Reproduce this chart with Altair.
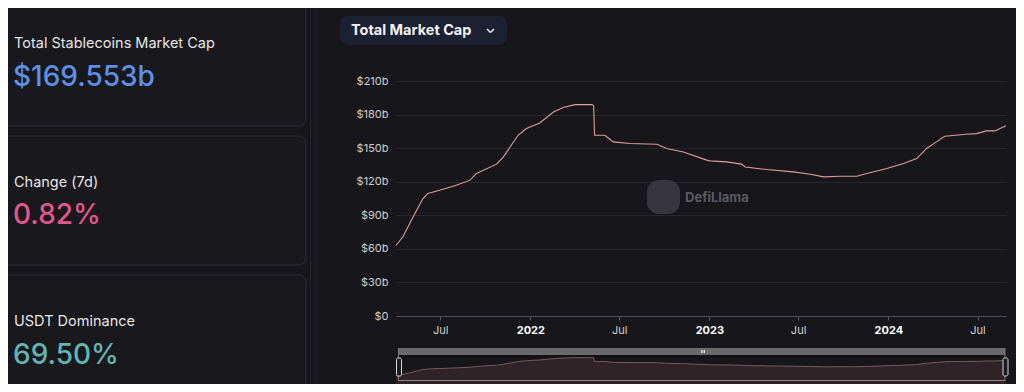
import altair as alt
import pandas as pd

# ---------------- data ----------------
dates = [
    "2021-04-02", "2021-04-16", "2021-04-30", "2021-05-14", "2021-05-27", "2021-06-06",
    "2021-06-30", "2021-08-03", "2021-08-31", "2021-09-13", "2021-10-24", "2021-11-07",
    "2021-12-07", "2021-12-24", "2022-01-20", "2022-02-17", "2022-03-09", "2022-04-02",
    "2022-05-06", "2022-05-10", "2022-05-12", "2022-06-02", "2022-06-19", "2022-07-23",
    "2022-09-16", "2022-10-06", "2022-11-09", "2022-12-27", "2023-01-02", "2023-02-05",
    "2023-03-08", "2023-03-15", "2023-04-28", "2023-06-21", "2023-07-26", "2023-08-22",
    "2023-09-25", "2023-10-29", "2023-11-18", "2023-12-29", "2024-02-01", "2024-02-28",
    "2024-03-19", "2024-04-08", "2024-04-25", "2024-06-08", "2024-06-29", "2024-07-19",
    "2024-08-05", "2024-08-28",
]
market_cap_b = [
    63.0, 70.8, 82.7, 94.6, 105.0, 109.5,
    112.4, 116.9, 121.4, 127.4, 135.7, 142.2,
    161.5, 167.5, 172.5, 182.3, 186.3, 188.9,
    188.9, 188.0, 161.5, 161.5, 155.6, 154.1,
    153.5, 149.6, 146.6, 139.3, 138.6, 137.7,
    135.7, 133.2, 130.9, 128.8, 126.7, 124.3,
    124.9, 124.9, 127.4, 131.8, 136.3, 140.7,
    149.7, 155.6, 160.6, 162.4, 163.0, 165.4,
    165.4, 170.0,
]
y_ticks = [0, 30, 60, 90, 120, 150, 180, 210]
x_ticks = [(2021, 7), (2022, 1), (2022, 7), (2023, 1), (2023, 7), (2024, 1), (2024, 7)]

stat_titles = ["Total Stablecoins Market Cap", "Change (7d)", "USDT Dominance"]
stat_values = ["$169.553b", "0.82%", "69.50%"]
chart_selector = "Total Market Cap"
watermark = "DefiLlama"

df = pd.DataFrame({"date": dates, "value": market_cap_b})

# ---------------- layout helpers (screenshot px -> plot px) ----------------
PX0, PY0 = 396, 81
W, H = 610, 235
BG = "#16161b"
FONT = "Inter"


def px(x):
    return x - PX0


def py(y):
    return y - PY0


one = alt.Data(values=[{"k": 1}])


def text(x, y, s, size, color, weight="normal", align="left"):
    return alt.Chart(one).mark_text(
        align=align, baseline="middle", fontSize=size, color=color,
        fontWeight=weight, font=FONT
    ).encode(x=alt.value(px(x)), y=alt.value(py(y)), text=alt.value(s))


def box(x1, y1, x2, y2, fill, stroke=None, r=0, sw=1):
    kw = dict(fill=fill, cornerRadius=r)
    if stroke:
        kw.update(stroke=stroke, strokeWidth=sw)
    return alt.Chart(one).mark_rect(**kw).encode(
        x=alt.value(px(x1)), x2=alt.value(px(x2)),
        y=alt.value(py(y1)), y2=alt.value(py(y2)))


def seg(x1, y1, x2, y2, color, w=1):
    return alt.Chart(one).mark_rule(color=color, strokeWidth=w).encode(
        x=alt.value(px(x1)), x2=alt.value(px(x2)),
        y=alt.value(py(y1)), y2=alt.value(py(y2)))


# ---------------- decorations ----------------
deco = [
    box(-20, -20, 306, 126, "#18181d", "#2d2e35", 7),
    box(-20, 136, 306, 265, "#18181d", "#2d2e35", 7),
    box(-20, 275, 306, 420, "#18181d", "#2d2e35", 7),
    seg(310.5, -10, 310.5, 400, "#232429"),
    seg(316, -10, 316, 400, "#26272d"),
    text(14, 44, stat_titles[0], 14.5, "#e6e6e6"),
    text(13, 78, stat_values[0], 28, "#5c90e6", 500),
    text(14, 183, stat_titles[1], 14.5, "#e6e6e6"),
    text(13, 216, stat_values[1], 28, "#e2568f", 500),
    text(14, 322, stat_titles[2], 14.5, "#e6e6e6"),
    text(13, 356, stat_values[2], 28, "#62b5b3", 500),
    box(340, 16, 507, 45, "#1b2032", None, 8),
    text(351, 31, chart_selector, 14.5, "#f2f2f2", "bold"),
    seg(487, 29, 490.5, 32.5, "#e6e6e6", 1.6),
    seg(490.5, 32.5, 494, 29, "#e6e6e6", 1.6),
    box(647, 180, 680, 214, "#36363c", None, 12),
    text(685, 198, watermark, 13, "#5a5a61", "bold"),
    # slider frame
    box(398, 348, 1005, 355, "#6a6a6c"),
    box(398, 355, 1005, 358, "#121214"),
]

# ---------------- main chart ----------------
x_enc = alt.X(
    "date:T",
    title=None,
    scale=alt.Scale(type="utc", domain=[alt.DateTime(year=2021, month=4, date=2, utc=True),
                                        alt.DateTime(year=2024, month=8, date=28, utc=True)]),
    axis=alt.Axis(
        values=[alt.DateTime(year=y, month=m, date=1, utc=True) for y, m in x_ticks],
        labelExpr="utcmonth(datum.value)==0 ? utcFormat(datum.value,'%Y') : utcFormat(datum.value,'%b')",
        labelFontWeight={"condition": {"test": "utcmonth(datum.value)==0", "value": "bold"}, "value": "normal"},
        labelColor={"condition": {"test": "utcmonth(datum.value)==0", "value": "#ffffff"}, "value": "#d4d4d4"},
        labelFont=FONT, labelFontSize=11, labelPadding=4,
        domainColor="#4e4e56", tickColor="#5a5a62", tickSize=4, grid=False,
    ),
)

line = alt.Chart(df).mark_line(color="#e09f97", strokeWidth=1.1).encode(
    x=x_enc,
    y=alt.Y(
        "value:Q", title=None,
        scale=alt.Scale(domain=[0, 210], nice=False, zero=True),
        axis=alt.Axis(
            values=y_ticks,
            labelExpr="datum.value==0 ? '$0' : '$' + datum.value + 'b'",
            labelFont=FONT, labelFontSize=11, labelColor="#cfcfcf", labelPadding=8,
            domain=False, ticks=False, grid=True, gridColor="#26272d", gridWidth=1,
        ),
    ),
)

slider = alt.Chart(df).mark_area(
    color="#3a2a2c", line={"color": "#7a5a58", "strokeWidth": 1}
).encode(
    x=x_enc,
    y=alt.Y("value:Q", title=None, axis=None,
            scale=alt.Scale(domain=[60, 190], range=[py(376), py(357.5)], zero=False, nice=False)),
    y2=alt.value(py(380)),
)

after = [
    seg(398, 380.5, 1005, 380.5, "#8a8a8c"),
    seg(398.5, 348, 398.5, 381, "#7a7a7c"),
    seg(1005, 348, 1005, 381, "#7a7a7c"),
    seg(701.5, 350, 701.5, 353, "#e0e0e0"),
    seg(703, 350, 703, 353, "#e0e0e0"),
    seg(704.5, 350, 704.5, 353, "#e0e0e0"),
    box(396.5, 358, 401.5, 376, "#1b1b20", "#d8d8d8", 1.5),
    box(1003, 358, 1008, 376, "#1b1b20", "#d8d8d8", 1.5),
]

chart = alt.layer(*deco, line, slider, *after).resolve_scale(y="independent").properties(
    width=W, height=H,
    autosize=alt.AutoSizeParams(type="none"),
    padding={"left": PX0 - 8, "top": PY0 - 8, "right": 1016 - (PX0 + W), "bottom": 384 - (PY0 + H)},
    background=BG,
).configure_view(strokeWidth=0)

chart.save("out.html", embed_options={"renderer": "svg", "actions": False})
